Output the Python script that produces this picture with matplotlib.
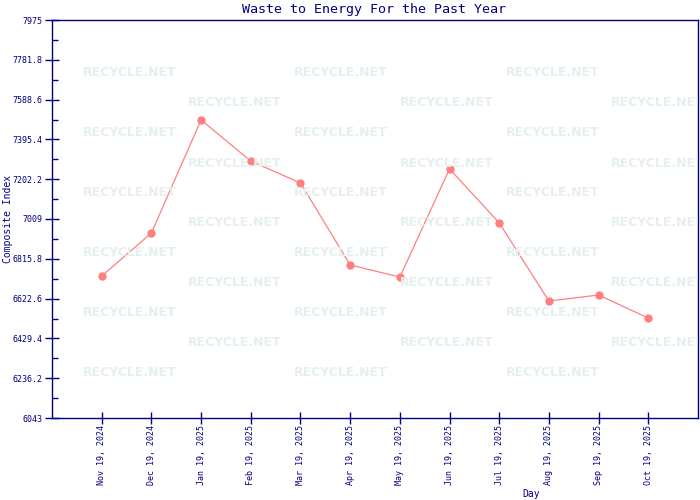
import matplotlib
matplotlib.use("Agg")
import matplotlib.pyplot as plt
import numpy as np

# ----- DATA -----
days = ["Nov 19, 2024", "Dec 19, 2024", "Jan 19, 2025", "Feb 19, 2025",
        "Mar 19, 2025", "Apr 19, 2025", "May 19, 2025", "Jun 19, 2025",
        "Jul 19, 2025", "Aug 19, 2025", "Sep 19, 2025", "Oct 19, 2025"]
composite = [6732, 6941, 7490, 7290, 7184, 6786, 6727, 7252, 6990, 6611, 6640, 6528]

y_min, y_max = 6043, 7975
y_ticks = [6043, 6236.2, 6429.4, 6622.6, 6815.8, 7009, 7202.2, 7395.4, 7588.6, 7781.8, 7975]
y_tick_labels = ["6043", "6236.2", "6429.4", "6622.6", "6815.8", "7009",
                 "7202.2", "7395.4", "7588.6", "7781.8", "7975"]

NAVY = "#000080"
LINE = "#ff7f7f"
WM = "#e6efef"
MONO = "DejaVu Sans Mono"

# ----- FIGURE -----
fig = plt.figure(figsize=(7, 5), dpi=100)
ax = fig.add_axes([52/700, 82/500, 646/700, 398/500])

# faint watermark tiles (figure pixel coords), clipped to the plot area
for row, yp in enumerate(range(73, 380, 30)):
    xs = [130, 341, 553] if row % 2 == 0 else [235, 447, 658]
    for xp in xs:
        t = fig.text(xp/700, 1 - yp/500, "RECYCLE.NET", color=WM, fontsize=9,
                     fontweight="bold", ha="center", va="center", zorder=0)
        t.set_clip_path(ax.patch)

x = np.arange(len(days))
ax.plot(x, composite, color=LINE, lw=0.9, marker="o", ms=5,
        mec=LINE, mfc=LINE, zorder=3)

ax.set_xlim(-1, 12)
ax.set_ylim(y_min, y_max)
ax.set_xticks(x)
ax.set_xticklabels(days, rotation=90, family=MONO, fontsize=6, color=NAVY)
ax.set_yticks(y_ticks)
ax.set_yticklabels(y_tick_labels, family=MONO, fontsize=6, color=NAVY)
ax.set_yticks([(a + b) / 2 for a, b in zip(y_ticks[:-1], y_ticks[1:])], minor=True)

ax.tick_params(axis="y", which="major", direction="inout", length=10, width=1,
               color=NAVY, pad=2)
ax.tick_params(axis="y", which="minor", direction="in", length=4, width=1, color=NAVY)
ax.tick_params(axis="x", which="major", direction="inout", length=8, width=1,
               color=NAVY, pad=1)

for s in ax.spines.values():
    s.set_color(NAVY)
    s.set_linewidth(1)
ax.patch.set_alpha(0)

fig.text(374/700, 1 - 9/500, "Waste to Energy For the Past Year", family=MONO,
         fontsize=9.6, color=NAVY, ha="center", va="center")
fig.text(8/700, 1 - 219/500, "Composite Index", family=MONO, fontsize=7,
         color=NAVY, rotation=90, ha="center", va="center")
fig.text(531/700, 1 - 494/500, "Day", family=MONO, fontsize=7, color=NAVY,
         ha="center", va="center")

fig.savefig("out.png", dpi=100)
